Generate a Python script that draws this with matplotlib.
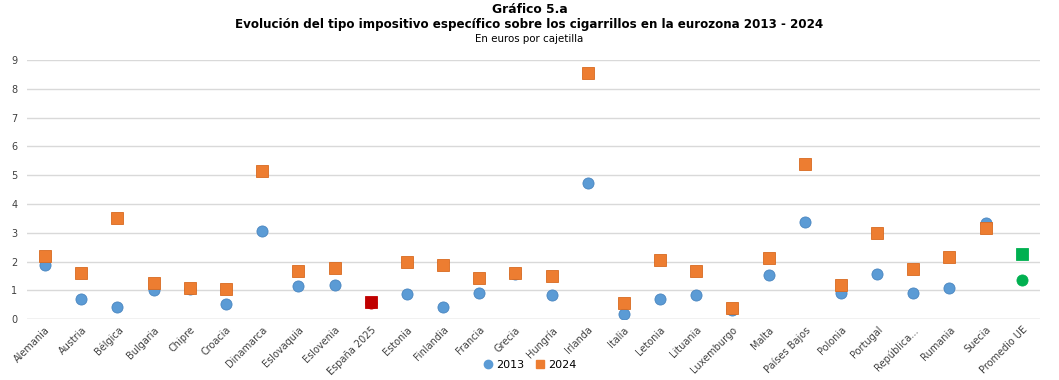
import numpy as np
import matplotlib.pyplot as plt

# Tipo impositivo específico sobre cigarrillos (euros por cajetilla)
paises = ["Alemania", "Austria", "Bélgica", "Bulgaria", "Chipre", "Croacia",
          "Dinamarca", "Eslovaquia", "Eslovenia", "España 2025", "Estonia",
          "Finlandia", "Francia", "Grecia", "Hungría", "Irlanda", "Italia",
          "Letonia", "Lituania", "Luxemburgo", "Malta", "Países Bajos",
          "Polonia", "Portugal", "República...", "Rumania", "Suecia",
          "Promedio UE"]
v2013 = [1.87, 0.69, 0.42, 1.00, 1.04, 0.52, 3.08, 1.15, 1.18, 0.55, 0.87,
         0.41, 0.90, 1.57, 0.84, 4.72, 0.17, 0.70, 0.84, 0.33, 1.53, 3.39,
         0.90, 1.56, 0.90, 1.10, 3.35, 1.35]
v2024 = [2.20, 1.60, 3.53, 1.25, 1.07, 1.04, 5.16, 1.68, 1.79, 0.60, 1.98,
         1.87, 1.42, 1.62, 1.49, 8.55, 0.55, 2.04, 1.66, 0.38, 2.12, 5.40,
         1.18, 3.01, 1.76, 2.15, 3.15, 2.25]

c2013 = ["#5B9BD5"] * len(paises)
c2024 = ["#ED7D31"] * len(paises)
# España en rojo, promedio UE en verde
c2013[9] = c2024[9] = "#C00000"
c2013[-1] = c2024[-1] = "#00B050"

x = np.arange(len(paises))

fig = plt.figure(figsize=(10.59, 3.8), dpi=100)
ax = fig.add_axes([0.0255, 0.16, 0.9565, 0.682])

for i in x:
    ax.plot(i, v2013[i], "o", ms=8, color=c2013[i], mec="#4A86C0" if c2013[i] == "#5B9BD5" else c2013[i],
            mew=0.6, zorder=3)
    ax.plot(i, v2024[i], "s", ms=8, color=c2024[i], mec="#D86A20" if c2024[i] == "#ED7D31" else c2024[i],
            mew=0.6, zorder=4)

ax.set_xlim(-0.5, len(paises) - 0.5)
ax.set_ylim(0, 9)
ax.set_yticks(range(10))
ax.grid(axis="y", color="#D9D9D9", lw=1)
ax.set_axisbelow(True)
for s in ["top", "right", "left", "bottom"]:
    ax.spines[s].set_visible(False)
ax.axhline(0, color="#D9D9D9", lw=1, zorder=1)
ax.tick_params(axis="both", length=0, labelsize=7, colors="#404040")
ax.tick_params(axis="y", pad=7)
ax.tick_params(axis="x", pad=4)
ax.set_xticks(x)
ax.set_xticklabels(paises, rotation=45, ha="right", rotation_mode="anchor")

fig.text(0.5, 0.992, "Gráfico 5.a", ha="center", va="top", fontsize=8.8, fontweight="bold")
fig.text(0.5, 0.952, "Evolución del tipo impositivo específico sobre los cigarrillos en la eurozona 2013 - 2024",
         ha="center", va="top", fontsize=8.6, fontweight="bold")
fig.text(0.5, 0.91, "En euros por cajetilla", ha="center", va="top", fontsize=7.4)

h1, = ax.plot([], [], "o", ms=6, color="#5B9BD5", label="2013")
h2, = ax.plot([], [], "s", ms=6, color="#ED7D31", label="2024")
fig.legend(handles=[h1, h2], loc="center", bbox_to_anchor=(0.5, 0.04), ncol=2, frameon=False,
           fontsize=8, handletextpad=0.2, columnspacing=1.0, handlelength=1)

fig.savefig("out.png", dpi=100)
